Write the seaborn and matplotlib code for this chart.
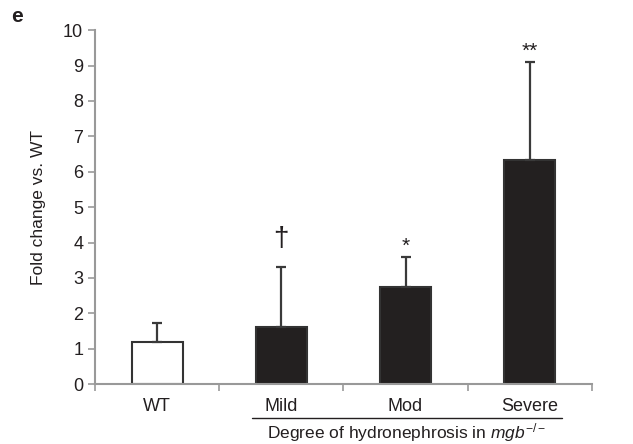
import matplotlib
matplotlib.use("Agg")
import matplotlib.pyplot as plt
import seaborn as sns
import pandas as pd

categories = ["WT", "Mild", "Mod", "Severe"]
means = [1.18, 1.60, 2.73, 6.33]
errors = [0.55, 1.70, 0.87, 2.78]
marks = ["", "†", "*", "**"]
fills = ["#ffffff", "#231f20", "#231f20", "#231f20"]

sns.set_style("white")
plt.rcParams["font.family"] = ["Liberation Sans", "DejaVu Sans"]
plt.rcParams["mathtext.fontset"] = "custom"
plt.rcParams["mathtext.rm"] = "Liberation Sans"
plt.rcParams["mathtext.it"] = "Liberation Sans:italic"

fig = plt.figure(figsize=(6.33, 4.44), dpi=100)
ax = fig.add_axes([0.150, 0.135, 0.785, 0.797])

df = pd.DataFrame({"cat": categories, "val": means})
sns.barplot(data=df, x="cat", y="val", hue="cat", palette=fills, legend=False,
            width=0.41, edgecolor="#333333", linewidth=1.5, ax=ax, errorbar=None)

xs = range(len(categories))
ax.errorbar(list(xs), means, yerr=[[0]*len(errors), errors], fmt="none",
            ecolor="#3a3a3a", elinewidth=1.6, capsize=3.8, capthick=1.6, zorder=1)
for x, m, e, s in zip(xs, means, errors, marks):
    if s:
        fs = 20 if s == "†" else 15
        off = 0.42 if s == "†" else 0.02
        ax.text(x, m + e + off, s, ha="center", va="bottom", fontsize=fs, color="#231f20")

ax.set_xlim(-0.5, 3.5)
ax.set_ylim(0, 10)
ax.set_yticks(range(0, 11))
ax.set_xticks([-0.5, 0.5, 1.5, 2.5, 3.5])
ax.set_xticklabels([])
ax.set_xticks(list(xs), categories, minor=True)
ax.tick_params(axis="x", which="major", direction="out", length=5, color="#999999", width=1.2, bottom=True)
ax.tick_params(axis="x", which="minor", length=0, labelsize=13, pad=10, colors="#231f20")
ax.tick_params(axis="y", direction="out", length=5, color="#999999", width=1.2, left=True, labelsize=13, labelcolor="#231f20")
for s in ["top", "right"]:
    ax.spines[s].set_visible(False)
for s in ["left", "bottom"]:
    ax.spines[s].set_color("#999999")
    ax.spines[s].set_linewidth(1.5)
ax.set_xlabel("")
ax.set_ylabel("Fold change vs. WT", fontsize=12.5, color="#231f20", labelpad=12)

fig.add_artist(plt.Line2D([252/633, 562/633], [1-418/444, 1-418/444], color="#231f20", lw=1.0))
fig.text(407/633, 1-433/444, r"Degree of hydronephrosis in $\mathit{mgb}^{-/-}$", ha="center", va="center",
         fontsize=12.5, color="#231f20")
fig.text(11/633, 1-17/444, "e", fontsize=15, fontweight="bold", ha="left", va="center", color="#231f20")

fig.savefig("out.png", dpi=100)
